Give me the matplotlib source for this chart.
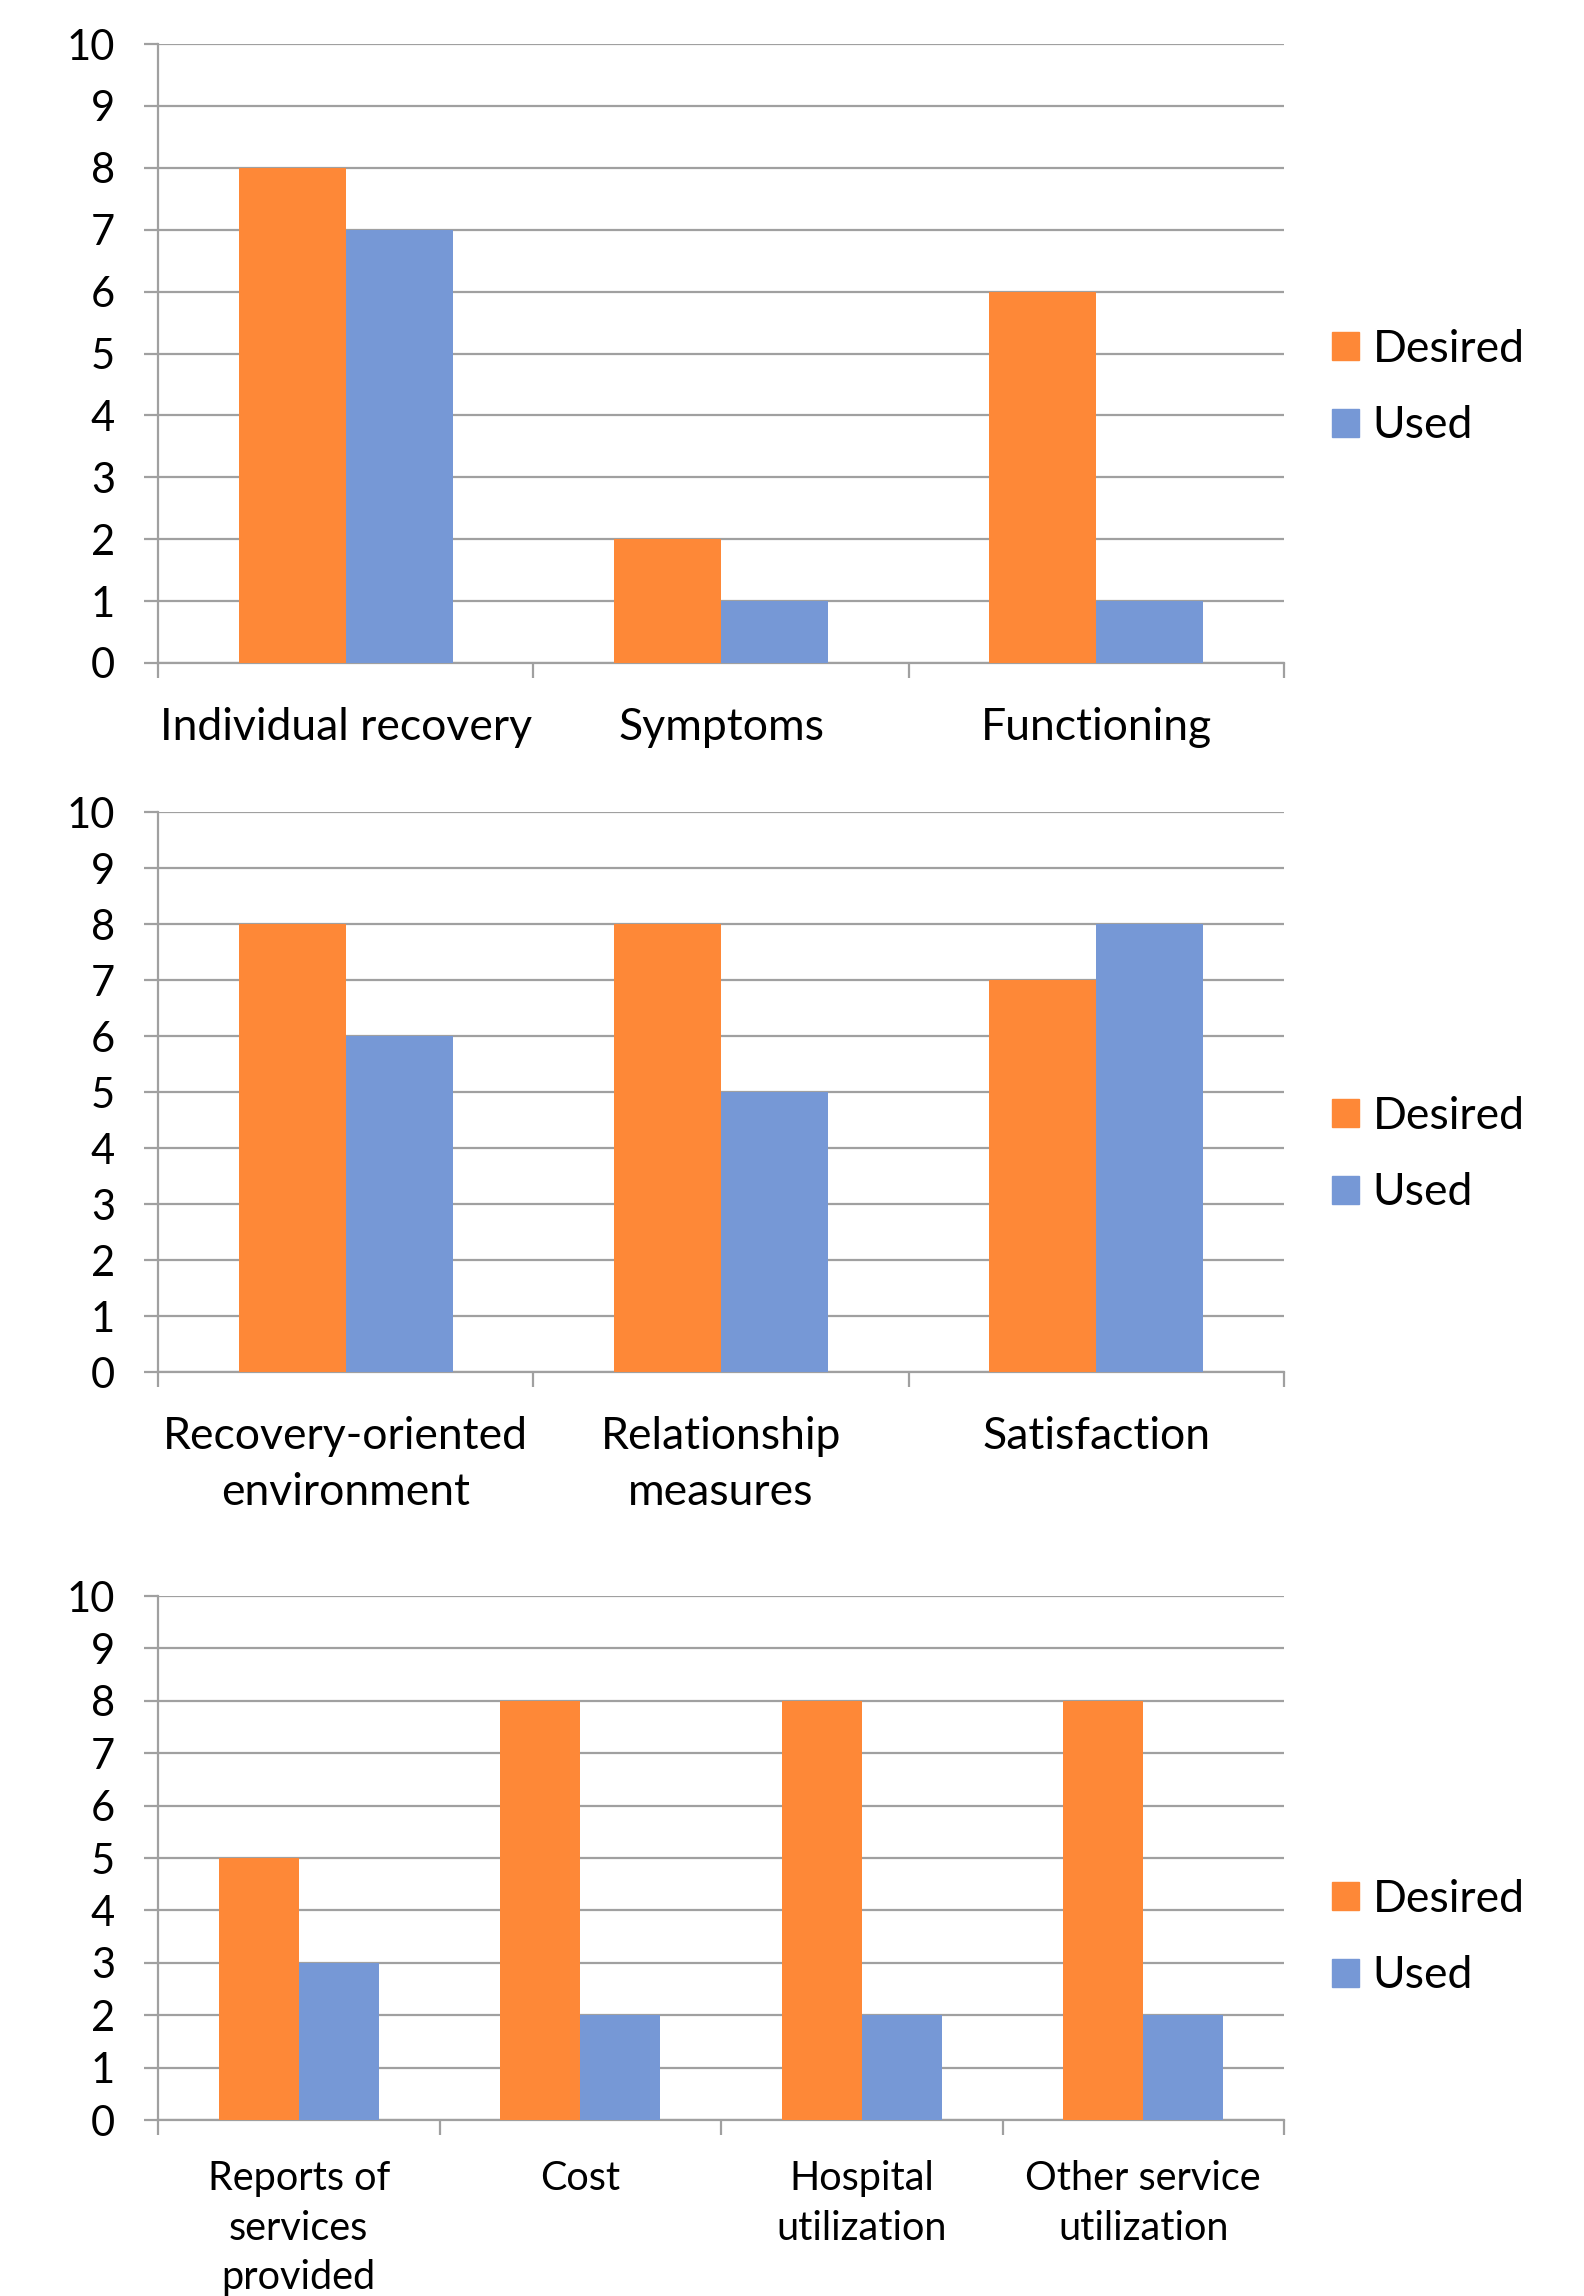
import matplotlib
matplotlib.use("Agg")
import matplotlib.pyplot as plt
import numpy as np
from matplotlib.patches import Patch

plt.rcParams['font.family'] = ['Lato', 'DejaVu Sans']

cats1 = ["Individual recovery", "Symptoms", "Functioning"]
desired1 = [8, 2, 6]
used1 = [7, 1, 1]

cats2 = ["Recovery-oriented\nenvironment", "Relationship\nmeasures", "Satisfaction"]
desired2 = [8, 8, 7]
used2 = [6, 5, 8]

cats3 = ["Reports of\nservices\nprovided", "Cost", "Hospital\nutilization", "Other service\nutilization"]
desired3 = [5, 8, 8, 8]
used3 = [3, 2, 2, 2]

yticks = list(range(0, 11))

ORANGE = "#FE8837"
BLUE = "#7698D6"
GRID = "#A0A0A0"

W, H = 1584, 2296
fig = plt.figure(figsize=(W / 100, H / 100), dpi=100)

left = 158 / W
width = (1284 - 158) / W

panels = [
    (cats1, desired1, used1, 44, 663, 0.445, 32, 1.45, 32),
    (cats2, desired2, used2, 812, 1372, 0.388, 32, 1.45, 32),
    (cats3, desired3, used3, 1596, 2120, 0.348, 28.5, 1.42, 29),
]

for cats, des, used, top_px, bot_px, leg_y, xfs, ls, xpad in panels:
    ax = fig.add_axes([left, 1 - bot_px / H, width, (bot_px - top_px) / H])
    n = len(cats)
    x = np.arange(n)
    bw = 0.285
    ax.bar(x - bw / 2, des, bw, color=ORANGE, label="Desired", zorder=3)
    ax.bar(x + bw / 2, used, bw, color=BLUE, label="Used", zorder=3)
    ax.set_xlim(-0.5, n - 0.5)
    ax.set_ylim(0, 10)
    ax.set_yticks(yticks)
    ax.set_yticklabels([str(t) for t in yticks], fontsize=30)
    ax.yaxis.grid(True, color=GRID, linewidth=1.6, zorder=0)
    ax.set_axisbelow(True)
    for s in ["top", "right"]:
        ax.spines[s].set_visible(False)
    for s in ["left", "bottom"]:
        ax.spines[s].set_color(GRID)
        ax.spines[s].set_linewidth(1.6)
    ax.tick_params(axis="y", length=10, width=1.6, color=GRID, pad=21)
    ax.set_xticks(x)
    ax.set_xticklabels(cats, fontsize=xfs, linespacing=ls)
    ax.set_xticks(np.arange(n + 1) - 0.5, minor=True)
    ax.tick_params(axis="x", which="major", length=0, pad=xpad)
    ax.tick_params(axis="x", which="minor", length=11, width=1.6, color=GRID)
    ax.legend(handles=[Patch(color=ORANGE), Patch(color=BLUE)],
              labels=["Desired", "Used"],
              loc="center left", bbox_to_anchor=(1.043, leg_y),
              frameon=False, fontsize=32, handlelength=0.6, handleheight=0.6,
              handletextpad=0.3, labelspacing=0.8, borderpad=0, borderaxespad=0)

fig.savefig("out.png", dpi=100)
